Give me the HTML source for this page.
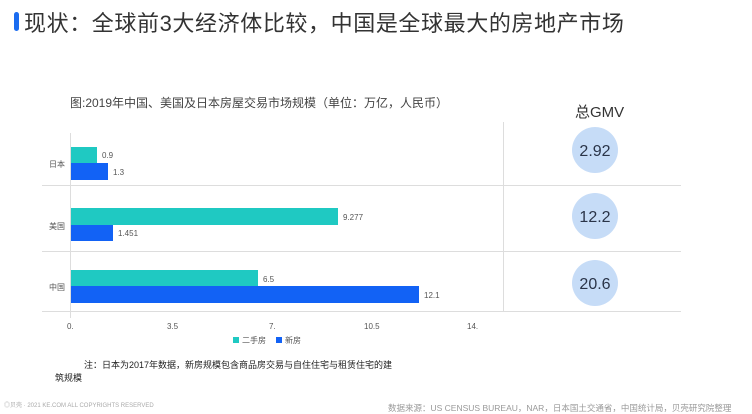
<!DOCTYPE html><html><head><meta charset="utf-8"><style>
body{margin:0;width:752px;height:414px;background:#fff;overflow:hidden;position:relative;font-family:"Liberation Sans","Noto Sans CJK SC",sans-serif}
.a{position:absolute;white-space:nowrap}
</style></head><body>
<div class="a" style="left:14px;top:12px;width:5px;height:19px;background:#1a6cf0;border-radius:3px"></div>
<div class="a" style="left:24px;top:6px;font-size:22px;color:#333;letter-spacing:0.6px">现状：全球前3大经济体比较，中国是全球最大的房地产市场</div>
<div class="a" style="left:70px;top:94px;font-size:12px;color:#444">图:2019年中国、美国及日本房屋交易市场规模（单位：万亿，人民币）</div>
<div class="a" style="left:575px;top:101px;font-size:15px;color:#333">总GMV</div>
<svg class="a" style="left:0;top:0" width="752" height="414">
<g stroke="#ddd" stroke-width="1"><line x1="42" y1="185.5" x2="681" y2="185.5"/><line x1="42" y1="251.5" x2="681" y2="251.5"/><line x1="42" y1="311.5" x2="681" y2="311.5"/><line x1="70.5" y1="133" x2="70.5" y2="318"/><line x1="503.5" y1="122" x2="503.5" y2="311"/></g>
<g fill="#1fc9c2"><rect x="71" y="147" width="26" height="16"/><rect x="71" y="208" width="267" height="17"/><rect x="71" y="270" width="187" height="16"/></g>
<g fill="#1262f5"><rect x="71" y="163" width="37" height="17"/><rect x="71" y="225" width="42" height="16"/><rect x="71" y="286" width="348" height="17"/></g>
<g font-size="8" fill="#555"><text x="102" y="158">0.9</text><text x="113" y="175">1.3</text><text x="343" y="220">9.277</text><text x="118" y="236">1.451</text><text x="263" y="282">6.5</text><text x="424" y="298">12.1</text>
<text x="49" y="167">日本</text><text x="49" y="229">美国</text><text x="49" y="290">中国</text>
<text x="67" y="329">0.</text><text x="167" y="329">3.5</text><text x="269" y="329">7.</text><text x="364" y="329">10.5</text><text x="467" y="329">14.</text>
<rect x="233" y="337" width="6" height="6" fill="#1fc9c2"/><text x="242" y="343">二手房</text><rect x="276" y="337" width="6" height="6" fill="#1262f5"/><text x="285" y="343">新房</text></g>
<g fill="#c6dcf7"><circle cx="595" cy="150" r="23"/><circle cx="595" cy="216" r="23"/><circle cx="595" cy="283" r="23"/></g>
<g font-size="16" fill="#2a3448" text-anchor="middle"><text x="595" y="156">2.92</text><text x="595" y="222">12.2</text><text x="595" y="289">20.6</text></g>
</svg>
<div class="a" style="left:84px;top:358px;font-size:9px;color:#222">注：日本为2017年数据，新房规模包含商品房交易与自住住宅与租赁住宅的建</div>
<div class="a" style="left:55px;top:371px;font-size:9px;color:#222">筑规模</div>
<div class="a" style="left:4px;top:400px;font-size:6px;color:#aaa">◎贝壳 · 2021 KE.COM ALL COPYRIGHTS RESERVED</div>
<div class="a" style="left:388px;top:402px;font-size:8.5px;color:#999">数据来源：US CENSUS BUREAU，NAR，日本国土交通省，中国统计局，贝壳研究院整理</div>
</body></html>
